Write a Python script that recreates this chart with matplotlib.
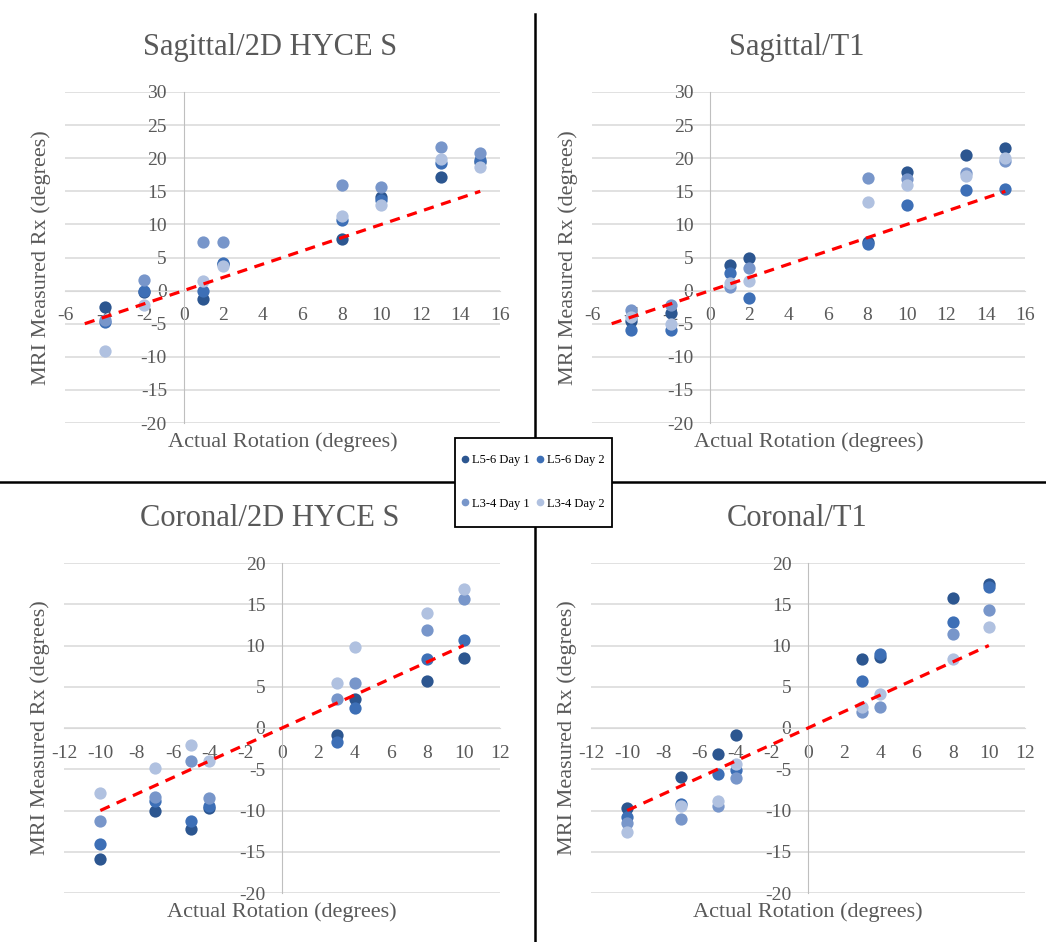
import matplotlib.pyplot as plt
from matplotlib.lines import Line2D
from matplotlib.patches import Rectangle

# Series colours (Excel blue monochrome)
colors = ['#2C5690', '#3D6FB6', '#7896CA', '#B0C1E0']
series_names = ['L5-6 Day 1', 'L5-6 Day 2', 'L3-4 Day 1', 'L3-4 Day 2']

# Sagittal data (actual rotation vs. MRI measured)
sag_x = [-4, -2, 1, 2, 8, 10, 13, 15]
sag_ref = [-5, 15]

sag_hyce_l56_d1 = [-2.5, -0.2, -1.2, 4.0, 7.8, 14.1, 17.2, 19.5]
sag_hyce_l56_d2 = [-4.8, 0.0, 0.0, 4.2, 10.7, 13.7, 19.2, 19.8]
sag_hyce_l34_d1 = [-4.5, 1.6, 7.4, 7.4, 16.0, 15.6, 21.7, 20.8]
sag_hyce_l34_d2 = [-9.1, -2.1, 1.4, 3.7, 11.2, 13.0, 19.9, 18.7]

sag_t1_l56_d1 = [-4.6, -3.4, 3.8, 5.0, 7.3, 17.9, 20.5, 21.5]
sag_t1_l56_d2 = [-5.9, -6.0, 2.6, -1.1, 7.1, 12.9, 15.2, 15.4]
sag_t1_l34_d1 = [-3.0, -2.1, 0.5, 3.4, 17.0, 16.9, 17.8, 19.6]
sag_t1_l34_d2 = [-4.0, -5.1, 1.1, 1.4, 13.4, 15.9, 17.3, 20.1]

# Coronal data
cor_x = [-10, -7, -5, -4, 3, 4, 8, 10]
cor_ref = [-10, 10]

cor_hyce_l56_d1 = [-15.9, -10.0, -12.2, -9.75, -0.8, 3.5, 5.7, 8.5]
cor_hyce_l56_d2 = [-14.1, -8.9, -11.25, -9.5, -1.7, 2.4, 8.35, 10.65]
cor_hyce_l34_d1 = [-11.3, -8.4, -3.95, -8.5, 3.55, 5.5, 11.9, 15.65]
cor_hyce_l34_d2 = [-7.9, -4.8, -2.1, -3.95, 5.4, 9.8, 14.0, 16.85]

cor_t1_l56_d1 = [-9.75, -5.9, -3.1, -0.85, 8.35, 8.6, 15.8, 17.5]
cor_t1_l56_d2 = [-10.8, -9.2, -5.6, -5.1, 5.7, 9.0, 12.9, 17.1]
cor_t1_l34_d1 = [-11.5, -11.0, -9.4, -6.0, 1.9, 2.6, 11.4, 14.35]
cor_t1_l34_d2 = [-12.6, -9.5, -8.8, -4.4, 2.5, 4.1, 8.35, 12.2]

W, H = 1046, 942
GRAY = '#595959'
plt.rcParams['font.family'] = ['Liberation Serif', 'DejaVu Serif']
plt.rcParams['axes.unicode_minus'] = False

fig = plt.figure(figsize=(W / 100, H / 100), dpi=100)


def px_axes(l, t, r, b):
    return fig.add_axes([l / W, 1 - b / H, (r - l) / W, (b - t) / H])


def draw_panel(box, title, title_x, title_y, x, ys, ref, xlim, ylim, xticks, yticks):
    l, t, r, b = box
    ax = px_axes(l, t, r, b)
    for yv, c in zip(ys, colors):
        ax.scatter(x, yv, s=78, color=c, zorder=3, linewidths=0)
    ax.plot(ref, ref, color='#FF0000', lw=2.3, dashes=(3.2, 2.4), zorder=4)

    ax.set_xlim(*xlim)
    ax.set_ylim(*ylim)
    ax.set_xticks(xticks)
    ax.set_yticks(yticks)
    ax.grid(axis='y', color='#D9D9D9', lw=1.1, zorder=0)
    ax.set_axisbelow(True)
    for s in ['top', 'right']:
        ax.spines[s].set_visible(False)
    ax.spines['left'].set_position(('data', 0))
    ax.spines['bottom'].set_position(('data', 0))
    ax.spines['left'].set_color('#BFBFBF')
    ax.spines['bottom'].set_color('#D9D9D9')
    ax.tick_params(axis='x', length=0, pad=12, labelsize=14, labelcolor=GRAY)
    ax.tick_params(axis='y', length=0, pad=12, labelsize=14, labelcolor=GRAY)
    ax.patch.set_alpha(0)

    fig.text(title_x / W, 1 - title_y / H, title, fontsize=22, color=GRAY,
             ha='center', va='center')
    fig.text((l + r) / 2 / W, 1 - (b + 19) / H, 'Actual Rotation (degrees)',
             fontsize=16, color=GRAY, ha='center', va='center')
    fig.text((l - 24) / W, 1 - (t + b) / 2 / H, 'MRI Measured Rx (degrees)',
             fontsize=16, color=GRAY, ha='center', va='center', rotation=90)
    return ax


sag_ticks_x = list(range(-6, 17, 2))
sag_ticks_y = list(range(-20, 31, 5))
cor_ticks_x = list(range(-12, 13, 2))
cor_ticks_y = list(range(-20, 21, 5))

draw_panel((65, 92, 500, 423), 'Sagittal/2D HYCE S', 270, 47, sag_x,
           [sag_hyce_l56_d1, sag_hyce_l56_d2, sag_hyce_l34_d1, sag_hyce_l34_d2],
           sag_ref, (-6, 16), (-20, 30), sag_ticks_x, sag_ticks_y)
draw_panel((592, 92, 1025, 423), 'Sagittal/T1', 797, 47, sag_x,
           [sag_t1_l56_d1, sag_t1_l56_d2, sag_t1_l34_d1, sag_t1_l34_d2],
           sag_ref, (-6, 16), (-20, 30), sag_ticks_x, sag_ticks_y)
draw_panel((64, 563, 500, 893), 'Coronal/2D HYCE S', 270, 518, cor_x,
           [cor_hyce_l56_d1, cor_hyce_l56_d2, cor_hyce_l34_d1, cor_hyce_l34_d2],
           cor_ref, (-12, 12), (-20, 20), cor_ticks_x, cor_ticks_y)
draw_panel((591, 563, 1025, 893), 'Coronal/T1', 797, 518, cor_x,
           [cor_t1_l56_d1, cor_t1_l56_d2, cor_t1_l34_d1, cor_t1_l34_d2],
           cor_ref, (-12, 12), (-20, 20), cor_ticks_x, cor_ticks_y)

# black dividing lines between the quadrants
fig.add_artist(Line2D([535 / W, 535 / W], [0, 1 - 14 / H], color='black', lw=1.8,
                      transform=fig.transFigure))
fig.add_artist(Line2D([0, 1], [1 - 482 / H, 1 - 482 / H], color='black', lw=1.8,
                      transform=fig.transFigure))

# legend box drawn separately so its size matches the reference
box = Rectangle((455 / W, 1 - 527 / H), 157 / W, 89 / H, transform=fig.transFigure,
                facecolor='white', edgecolor='black', lw=1.3, zorder=9)
fig.add_artist(box)

# matplotlib fills legend column-wise -> reorder so rows read Day 1 / Day 2
order = [0, 2, 1, 3]
handles = [Line2D([], [], marker='o', ls='none', color=colors[i], markersize=4.5)
           for i in order]
labels = [series_names[i] for i in order]
leg = fig.legend(handles, labels, loc='center', ncol=2,
                 bbox_to_anchor=(533.5 / W, 1 - 482 / H), fontsize=9,
                 frameon=False, handlelength=0.5, handletextpad=0.3,
                 columnspacing=0.6, labelspacing=2.5, borderpad=0, borderaxespad=0)
leg.set_zorder(10)

fig.savefig('out.png', dpi=100)
